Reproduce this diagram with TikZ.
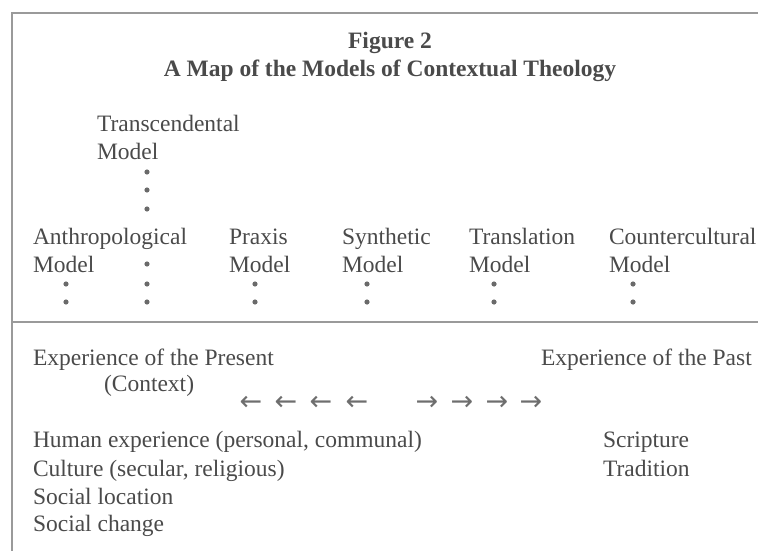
\documentclass[tikz,border=0pt]{standalone}
\usepackage{fontspec}
\setmainfont{Liberation Serif}
\newfontfamily\arrfont{DejaVu Sans}
\definecolor{txt}{HTML}{4A4A4A}
\definecolor{rulec}{HTML}{9A9A9A}
\definecolor{dotc}{HTML}{6A6A6A}
\tikzset{
  lbl/.style={inner sep=0pt, outer sep=0pt, anchor=base west, text=txt, font=\fontsize{23.5}{28}\selectfont},
  ttl/.style={inner sep=0pt, outer sep=0pt, anchor=base, text=txt, font=\fontsize{23.5}{28}\selectfont\bfseries},
  arr/.style={inner sep=0pt, outer sep=0pt, anchor=center, text=txt!80, font=\arrfont\fontsize{27}{30}\selectfont},
  frame/.style={draw=rulec, line width=1.4pt},
  dotmark/.style={fill=dotc},
}
\begin{document}
\begin{tikzpicture}[x=1pt,y=-1pt]
\useasboundingbox (0,0) rectangle (758,551);
% frame
\draw[frame] (12,551) -- (12,13) -- (758,13);
\draw[frame] (12,322) -- (758,322);
% title
\node[ttl] (fig) at (390,49) {Figure 2};
\node[ttl] (title) at (390,77) {A Map of the Models of Contextual Theology};
% transcendental
\node[lbl] (trans) at (97,131) {Transcendental};
\node[lbl] (transM) at (97,159) {Model};
% models row
\node[lbl] (anth) at (33,244) {Anthropological};
\node[lbl] (anthM) at (33,272) {Model};
\node[lbl] (prax) at (229,244) {Praxis};
\node[lbl] (praxM) at (229,272) {Model};
\node[lbl] (synt) at (342,244) {Synthetic};
\node[lbl] (syntM) at (342,272) {Model};
\node[lbl] (tran) at (469,244) {Translation};
\node[lbl] (tranM) at (469,272) {Model};
\node[lbl] (cult) at (609,244) {Countercultural};
\node[lbl] (cultM) at (609,272) {Model};
% dots
\foreach \y in {172,190,209,264,284,302} \fill[dotmark] (147,\y) circle (2.6);
\foreach \x in {66,255,367,494,633} {\fill[dotmark] (\x,284) circle (2.6); \fill[dotmark] (\x,302) circle (2.6);}
% lower part
\node[lbl] (pres) at (33,365) {Experience of the Present};
\node[lbl] (ctx) at (104,391) {(Context)};
\node[lbl] (past) at (541,365) {Experience of the Past};
\foreach \x [count=\i] in {251,286,321,357} \node[arr] (la\i) at (\x,403) {←};
\foreach \x [count=\i] in {427,462,497,531} \node[arr] (ra\i) at (\x,403) {→};
\node[lbl] (hum) at (33,447) {Human experience (personal, communal)};
\node[lbl] (cul) at (33,476) {Culture (secular, religious)};
\node[lbl] (loc) at (33,504) {Social location};
\node[lbl] (chg) at (33,531) {Social change};
\node[lbl] (scr) at (603,447) {Scripture};
\node[lbl] (tra) at (603,476) {Tradition};
\end{tikzpicture}
\end{document}
